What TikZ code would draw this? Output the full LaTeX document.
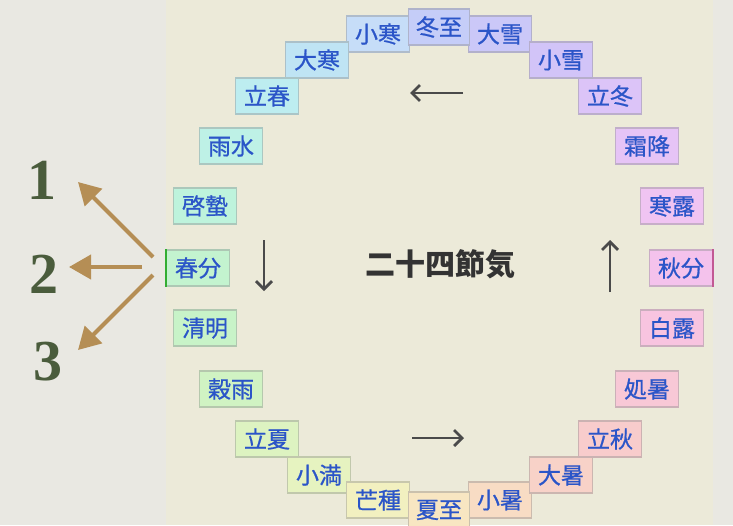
\documentclass[tikz,border=0pt]{standalone}
\usepackage{fontspec}
\setmainfont{Liberation Serif}
\newfontfamily\cjk{Noto Sans CJK JP}
\newfontfamily\cjkterm[FakeBold=0.8]{Noto Sans CJK JP}
\usetikzlibrary{arrows.meta}
\definecolor{outerbg}{HTML}{E9E8E2}
\definecolor{panel}{HTML}{ECEAD9}
\definecolor{txtblue}{HTML}{2B55C8}
\definecolor{brownarr}{HTML}{B58E55}
\definecolor{numgreen}{HTML}{4A5C3C}
\definecolor{grayarr}{HTML}{4A4A4A}
\tikzset{
  term/.style={draw=#1!75!black!75, fill=#1, line width=1.2pt, minimum width=63pt, minimum height=36pt,
    inner sep=0pt, text=txtblue, font=\cjkterm\fontsize{23}{23}\selectfont},
  num/.style={text=numgreen, font=\bfseries\fontsize{58}{58}\selectfont},
  brarrow/.style={brownarr, line width=4pt, -{Triangle[length=22pt,width=24pt]}},
  grarrow/.style={grayarr, line width=2.5pt, -{Straight Barb[length=8pt,width=16pt,line width=2.8pt]}},
}
\begin{document}
\begin{tikzpicture}[x=1pt,y=-1pt]
\fill[outerbg] (0,0) rectangle (733,525);
\useasboundingbox (0,0) rectangle (733,525);
\fill[panel] (166,0) rectangle (713,525);
% colours
\definecolor{c01}{HTML}{C6DDF8}
\definecolor{c02}{HTML}{BFE4F4}
\definecolor{c03}{HTML}{BDEDF0}
\definecolor{c04}{HTML}{BEF1E6}
\definecolor{c05}{HTML}{BEF3DC}
\definecolor{c06}{HTML}{C3F3CF}
\definecolor{c07}{HTML}{C8F3C8}
\definecolor{c08}{HTML}{D0F3C3}
\definecolor{c09}{HTML}{DDF3C1}
\definecolor{c10}{HTML}{E6F3C0}
\definecolor{c11}{HTML}{F2F0C0}
\definecolor{c12}{HTML}{F8E6C2}
\definecolor{c13}{HTML}{F8DCC4}
\definecolor{c14}{HTML}{F8D2C8}
\definecolor{c15}{HTML}{F8CCCC}
\definecolor{c16}{HTML}{F8C8D6}
\definecolor{c17}{HTML}{F8C4E0}
\definecolor{c18}{HTML}{F4C2EC}
\definecolor{c19}{HTML}{F0C4F2}
\definecolor{c20}{HTML}{E6C4F6}
\definecolor{c21}{HTML}{DCC4F8}
\definecolor{c22}{HTML}{D2C4F8}
\definecolor{c23}{HTML}{CBC8F8}
\definecolor{c00}{HTML}{C5CDF8}
% terms
\node[term=c01] (shokan) at (378,34) {小寒};
\node[term=c23] (taisetsu) at (500,34) {大雪};
\node[term=c00, minimum width=61pt] (toji) at (439,27) {冬至};
\node[term=c02] (daikan) at (317,60) {大寒};
\node[term=c03] (risshun) at (267,96) {立春};
\node[term=c04] (usui) at (231,146) {雨水};
\node[term=c05] (keichitsu) at (205,206) {啓蟄};
\node[term=c06] (shunbun) at (198,268) {春分};
\node[term=c07] (seimei) at (205,328) {清明};
\node[term=c08] (kokuu) at (231,389) {穀雨};
\node[term=c09] (rikka) at (267,439) {立夏};
\node[term=c10] (shoman) at (319,475) {小満};
\node[term=c11] (boshu) at (378,500) {芒種};
\node[term=c13] (shosho) at (500,500) {小暑};
\node[term=c12, minimum width=61pt] (geshi) at (439,510) {夏至};
\node[term=c14] (taisho) at (561,475) {大暑};
\node[term=c15] (risshu) at (610,439) {立秋};
\node[term=c16] (shosho2) at (647,389) {処暑};
\node[term=c17] (hakuro) at (672,328) {白露};
\node[term=c18] (shubun) at (681,268) {秋分};
\node[term=c19] (kanro) at (672,206) {寒露};
\node[term=c20] (soko) at (647,146) {霜降};
\node[term=c21] (ritto) at (610,96) {立冬};
\node[term=c22] (shosetsu) at (561,60) {小雪};
% accent borders
\draw[line width=2.5pt, green!60!black!80] (shunbun.north west) -- (shunbun.south west);
\draw[line width=2.5pt, magenta!70!black!80] (shubun.north east) -- (shubun.south east);
% centre
\node[font=\cjk\bfseries\fontsize{30}{30}\selectfont, text=black!80] (title) at (440,264) {二十四節気};
\coordinate (aLs) at (463,93); \coordinate (aLe) at (410,93);
\coordinate (aDs) at (264,240); \coordinate (aDe) at (264,291);
\coordinate (aRs) at (412,438); \coordinate (aRe) at (464,438);
\coordinate (aUs) at (610,292); \coordinate (aUe) at (610,240);
\draw[grarrow] (aLs) -- (aLe);
\draw[grarrow] (aDs) -- (aDe);
\draw[grarrow] (aRs) -- (aRe);
\draw[grarrow] (aUs) -- (aUe);
% numbers
\node[num] (n1) at (42,180) {1};
\node[num] (n2) at (44,274) {2};
\node[num] (n3) at (48,362) {3};
\coordinate (b1) at (153,257); \coordinate (t1) at (78,182);
\coordinate (b2) at (142,267); \coordinate (t2) at (69,267);
\coordinate (b3) at (153,275); \coordinate (t3) at (78,350);
\draw[brarrow] (b1) -- (t1);
\draw[brarrow] (b2) -- (t2);
\draw[brarrow] (b3) -- (t3);
\end{tikzpicture}
\end{document}
